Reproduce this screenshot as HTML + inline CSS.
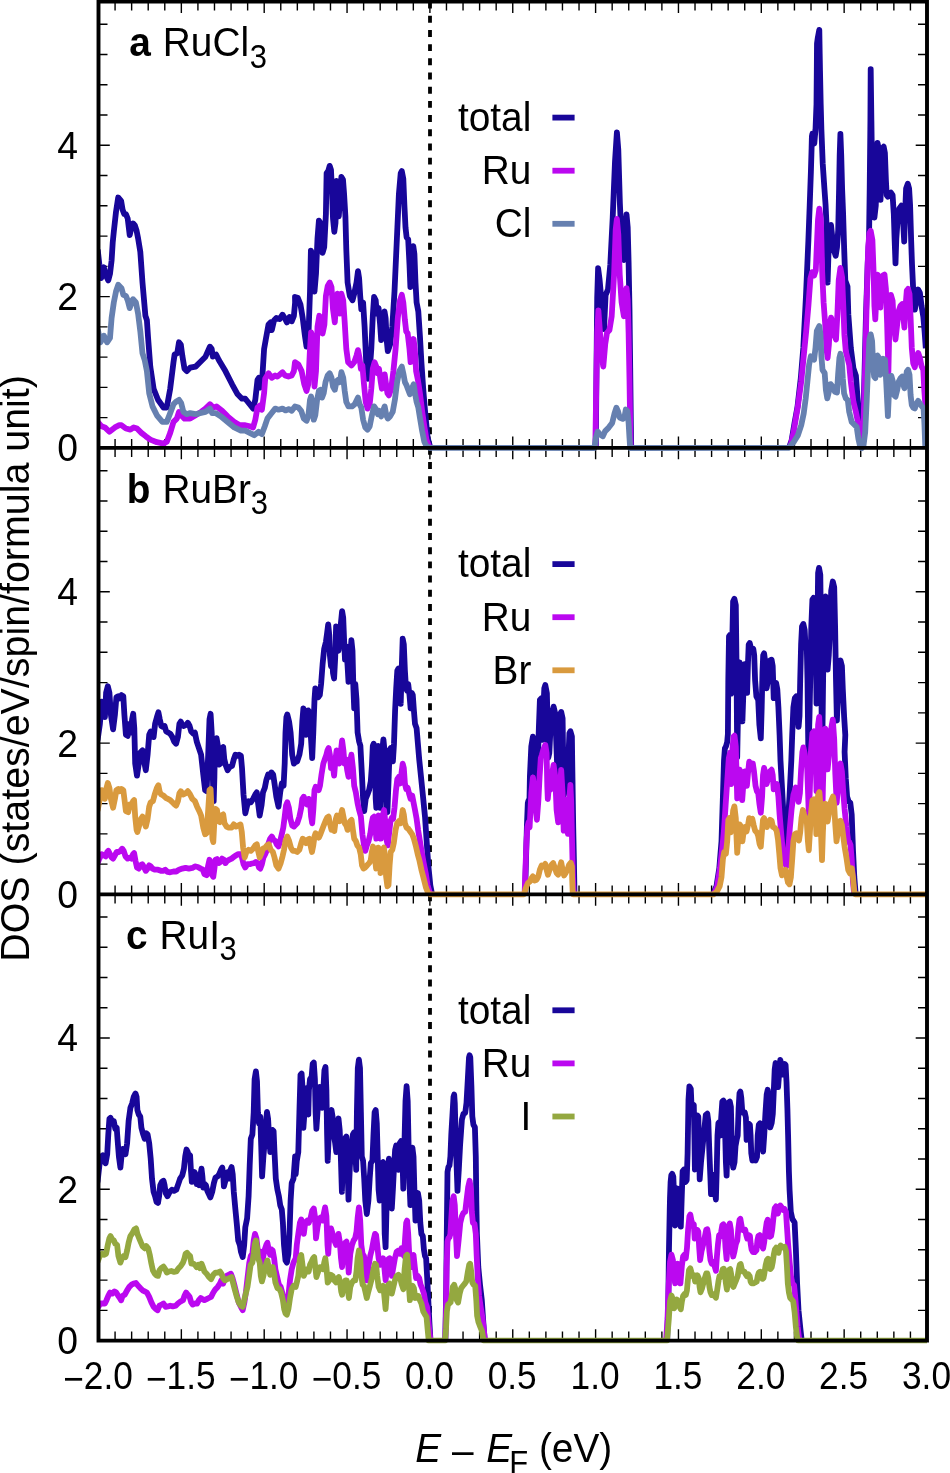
<!DOCTYPE html>
<html><head><meta charset="utf-8"><title>DOS</title>
<style>html,body{margin:0;padding:0;background:#fff}body{width:950px;height:1473px;overflow:hidden}</style>
</head><body>
<svg width="950" height="1473" viewBox="0 0 950 1473" style="display:block;will-change:transform;transform:translateZ(0)">
<rect width="950" height="1473" fill="#fff"/>
<defs><clipPath id="cp"><rect x="98.5" y="0" width="828.5" height="1343.6"/></clipPath></defs>
<path d="M98.50,1.6 v11.3 M98.50,436.59999999999997 v22.6 M98.50,883.1 v22.6 M98.50,1340.6 v-11.3 M115.07,1.6 v9.0 M115.07,438.9 v18.0 M115.07,885.4 v18.0 M115.07,1340.6 v-9.0 M131.64,1.6 v9.0 M131.64,438.9 v18.0 M131.64,885.4 v18.0 M131.64,1340.6 v-9.0 M148.21,1.6 v9.0 M148.21,438.9 v18.0 M148.21,885.4 v18.0 M148.21,1340.6 v-9.0 M164.78,1.6 v9.0 M164.78,438.9 v18.0 M164.78,885.4 v18.0 M164.78,1340.6 v-9.0 M181.35,1.6 v11.3 M181.35,436.59999999999997 v22.6 M181.35,883.1 v22.6 M181.35,1340.6 v-11.3 M197.92,1.6 v9.0 M197.92,438.9 v18.0 M197.92,885.4 v18.0 M197.92,1340.6 v-9.0 M214.49,1.6 v9.0 M214.49,438.9 v18.0 M214.49,885.4 v18.0 M214.49,1340.6 v-9.0 M231.06,1.6 v9.0 M231.06,438.9 v18.0 M231.06,885.4 v18.0 M231.06,1340.6 v-9.0 M247.63,1.6 v9.0 M247.63,438.9 v18.0 M247.63,885.4 v18.0 M247.63,1340.6 v-9.0 M264.20,1.6 v11.3 M264.20,436.59999999999997 v22.6 M264.20,883.1 v22.6 M264.20,1340.6 v-11.3 M280.77,1.6 v9.0 M280.77,438.9 v18.0 M280.77,885.4 v18.0 M280.77,1340.6 v-9.0 M297.34,1.6 v9.0 M297.34,438.9 v18.0 M297.34,885.4 v18.0 M297.34,1340.6 v-9.0 M313.91,1.6 v9.0 M313.91,438.9 v18.0 M313.91,885.4 v18.0 M313.91,1340.6 v-9.0 M330.48,1.6 v9.0 M330.48,438.9 v18.0 M330.48,885.4 v18.0 M330.48,1340.6 v-9.0 M347.05,1.6 v11.3 M347.05,436.59999999999997 v22.6 M347.05,883.1 v22.6 M347.05,1340.6 v-11.3 M363.62,1.6 v9.0 M363.62,438.9 v18.0 M363.62,885.4 v18.0 M363.62,1340.6 v-9.0 M380.19,1.6 v9.0 M380.19,438.9 v18.0 M380.19,885.4 v18.0 M380.19,1340.6 v-9.0 M396.76,1.6 v9.0 M396.76,438.9 v18.0 M396.76,885.4 v18.0 M396.76,1340.6 v-9.0 M413.33,1.6 v9.0 M413.33,438.9 v18.0 M413.33,885.4 v18.0 M413.33,1340.6 v-9.0 M429.90,1.6 v11.3 M429.90,436.59999999999997 v22.6 M429.90,883.1 v22.6 M429.90,1340.6 v-11.3 M446.47,1.6 v9.0 M446.47,438.9 v18.0 M446.47,885.4 v18.0 M446.47,1340.6 v-9.0 M463.04,1.6 v9.0 M463.04,438.9 v18.0 M463.04,885.4 v18.0 M463.04,1340.6 v-9.0 M479.61,1.6 v9.0 M479.61,438.9 v18.0 M479.61,885.4 v18.0 M479.61,1340.6 v-9.0 M496.18,1.6 v9.0 M496.18,438.9 v18.0 M496.18,885.4 v18.0 M496.18,1340.6 v-9.0 M512.75,1.6 v11.3 M512.75,436.59999999999997 v22.6 M512.75,883.1 v22.6 M512.75,1340.6 v-11.3 M529.32,1.6 v9.0 M529.32,438.9 v18.0 M529.32,885.4 v18.0 M529.32,1340.6 v-9.0 M545.89,1.6 v9.0 M545.89,438.9 v18.0 M545.89,885.4 v18.0 M545.89,1340.6 v-9.0 M562.46,1.6 v9.0 M562.46,438.9 v18.0 M562.46,885.4 v18.0 M562.46,1340.6 v-9.0 M579.03,1.6 v9.0 M579.03,438.9 v18.0 M579.03,885.4 v18.0 M579.03,1340.6 v-9.0 M595.60,1.6 v11.3 M595.60,436.59999999999997 v22.6 M595.60,883.1 v22.6 M595.60,1340.6 v-11.3 M612.17,1.6 v9.0 M612.17,438.9 v18.0 M612.17,885.4 v18.0 M612.17,1340.6 v-9.0 M628.74,1.6 v9.0 M628.74,438.9 v18.0 M628.74,885.4 v18.0 M628.74,1340.6 v-9.0 M645.31,1.6 v9.0 M645.31,438.9 v18.0 M645.31,885.4 v18.0 M645.31,1340.6 v-9.0 M661.88,1.6 v9.0 M661.88,438.9 v18.0 M661.88,885.4 v18.0 M661.88,1340.6 v-9.0 M678.45,1.6 v11.3 M678.45,436.59999999999997 v22.6 M678.45,883.1 v22.6 M678.45,1340.6 v-11.3 M695.02,1.6 v9.0 M695.02,438.9 v18.0 M695.02,885.4 v18.0 M695.02,1340.6 v-9.0 M711.59,1.6 v9.0 M711.59,438.9 v18.0 M711.59,885.4 v18.0 M711.59,1340.6 v-9.0 M728.16,1.6 v9.0 M728.16,438.9 v18.0 M728.16,885.4 v18.0 M728.16,1340.6 v-9.0 M744.73,1.6 v9.0 M744.73,438.9 v18.0 M744.73,885.4 v18.0 M744.73,1340.6 v-9.0 M761.30,1.6 v11.3 M761.30,436.59999999999997 v22.6 M761.30,883.1 v22.6 M761.30,1340.6 v-11.3 M777.87,1.6 v9.0 M777.87,438.9 v18.0 M777.87,885.4 v18.0 M777.87,1340.6 v-9.0 M794.44,1.6 v9.0 M794.44,438.9 v18.0 M794.44,885.4 v18.0 M794.44,1340.6 v-9.0 M811.01,1.6 v9.0 M811.01,438.9 v18.0 M811.01,885.4 v18.0 M811.01,1340.6 v-9.0 M827.58,1.6 v9.0 M827.58,438.9 v18.0 M827.58,885.4 v18.0 M827.58,1340.6 v-9.0 M844.15,1.6 v11.3 M844.15,436.59999999999997 v22.6 M844.15,883.1 v22.6 M844.15,1340.6 v-11.3 M860.72,1.6 v9.0 M860.72,438.9 v18.0 M860.72,885.4 v18.0 M860.72,1340.6 v-9.0 M877.29,1.6 v9.0 M877.29,438.9 v18.0 M877.29,885.4 v18.0 M877.29,1340.6 v-9.0 M893.86,1.6 v9.0 M893.86,438.9 v18.0 M893.86,885.4 v18.0 M893.86,1340.6 v-9.0 M910.43,1.6 v9.0 M910.43,438.9 v18.0 M910.43,885.4 v18.0 M910.43,1340.6 v-9.0 M927.00,1.6 v11.3 M927.00,436.59999999999997 v22.6 M927.00,883.1 v22.6 M927.00,1340.6 v-11.3 M98.5,447.90 h11.3 M927.0,447.90 h-11.3 M98.5,417.64 h9.0 M927.0,417.64 h-9.0 M98.5,387.38 h9.0 M927.0,387.38 h-9.0 M98.5,357.12 h9.0 M927.0,357.12 h-9.0 M98.5,326.86 h9.0 M927.0,326.86 h-9.0 M98.5,296.60 h11.3 M927.0,296.60 h-11.3 M98.5,266.34 h9.0 M927.0,266.34 h-9.0 M98.5,236.08 h9.0 M927.0,236.08 h-9.0 M98.5,205.82 h9.0 M927.0,205.82 h-9.0 M98.5,175.56 h9.0 M927.0,175.56 h-9.0 M98.5,145.30 h11.3 M927.0,145.30 h-11.3 M98.5,115.04 h9.0 M927.0,115.04 h-9.0 M98.5,84.78 h9.0 M927.0,84.78 h-9.0 M98.5,54.52 h9.0 M927.0,54.52 h-9.0 M98.5,24.26 h9.0 M927.0,24.26 h-9.0 M98.5,894.40 h11.3 M927.0,894.40 h-11.3 M98.5,864.14 h9.0 M927.0,864.14 h-9.0 M98.5,833.88 h9.0 M927.0,833.88 h-9.0 M98.5,803.62 h9.0 M927.0,803.62 h-9.0 M98.5,773.36 h9.0 M927.0,773.36 h-9.0 M98.5,743.10 h11.3 M927.0,743.10 h-11.3 M98.5,712.84 h9.0 M927.0,712.84 h-9.0 M98.5,682.58 h9.0 M927.0,682.58 h-9.0 M98.5,652.32 h9.0 M927.0,652.32 h-9.0 M98.5,622.06 h9.0 M927.0,622.06 h-9.0 M98.5,591.80 h11.3 M927.0,591.80 h-11.3 M98.5,561.54 h9.0 M927.0,561.54 h-9.0 M98.5,531.28 h9.0 M927.0,531.28 h-9.0 M98.5,501.02 h9.0 M927.0,501.02 h-9.0 M98.5,470.76 h9.0 M927.0,470.76 h-9.0 M98.5,1340.60 h11.3 M927.0,1340.60 h-11.3 M98.5,1310.34 h9.0 M927.0,1310.34 h-9.0 M98.5,1280.08 h9.0 M927.0,1280.08 h-9.0 M98.5,1249.82 h9.0 M927.0,1249.82 h-9.0 M98.5,1219.56 h9.0 M927.0,1219.56 h-9.0 M98.5,1189.30 h11.3 M927.0,1189.30 h-11.3 M98.5,1159.04 h9.0 M927.0,1159.04 h-9.0 M98.5,1128.78 h9.0 M927.0,1128.78 h-9.0 M98.5,1098.52 h9.0 M927.0,1098.52 h-9.0 M98.5,1068.26 h9.0 M927.0,1068.26 h-9.0 M98.5,1038.00 h11.3 M927.0,1038.00 h-11.3 M98.5,1007.74 h9.0 M927.0,1007.74 h-9.0 M98.5,977.48 h9.0 M927.0,977.48 h-9.0 M98.5,947.22 h9.0 M927.0,947.22 h-9.0 M98.5,916.96 h9.0 M927.0,916.96 h-9.0" fill="none" stroke="#000" stroke-width="1.4"/>
<g clip-path="url(#cp)">
<line x1="430.0" y1="1.6" x2="430.0" y2="447.9" stroke="#000" stroke-width="3.8" stroke-dasharray="6.9 7.29"/>
<line x1="430.0" y1="447.9" x2="430.0" y2="894.4" stroke="#000" stroke-width="3.8" stroke-dasharray="6.9 7.29"/>
<line x1="430.0" y1="894.4" x2="430.0" y2="1340.6" stroke="#000" stroke-width="3.8" stroke-dasharray="6.9 7.29"/>
<path d="M97.7,249.5 L99.4,264.9 L101.2,278.2 L103.8,267.2 L106.1,276.0 L108.3,280.4 L110.0,273.8 L111.6,260.5 L112.7,242.8 L113.8,231.8 L116.0,211.9 L118.2,197.5 L121.1,200.8 L122.6,209.7 L124.2,214.1 L125.9,214.1 L127.7,218.5 L129.7,235.1 L131.5,227.4 L133.0,223.4 L134.8,225.2 L136.6,230.7 L138.1,238.4 L140.3,251.7 L142.5,282.6 L145.4,315.8 L146.9,320.2 L148.1,337.9 L150.3,366.6 L153.6,388.7 L158.0,399.8 L163.5,407.5 L166.8,407.5 L170.2,388.7 L173.5,362.2 L174.6,354.5 L177.2,353.4 L179.0,342.3 L180.8,344.5 L182.3,355.6 L184.5,368.8 L186.7,371.1 L190.1,367.7 L195.6,366.6 L200.0,362.2 L205.5,356.7 L209.9,346.7 L211.7,348.9 L212.8,356.7 L216.1,354.5 L218.8,360.0 L225.4,371.1 L232.1,384.3 L237.6,394.3 L242.0,398.7 L245.3,398.7 L249.7,404.2 L253.1,408.6 L255.3,399.8 L257.5,379.9 L259.0,377.7 L260.3,387.6 L261.9,384.3 L264.1,348.9 L265.7,340.1 L268.5,324.6 L270.7,322.4 L271.8,330.2 L274.1,320.2 L276.3,318.0 L279.6,319.1 L282.5,314.7 L284.7,318.0 L286.9,322.4 L289.5,316.9 L291.7,321.3 L293.9,315.8 L295.1,302.5 L295.0,297.0 L297.7,297.7 L300.5,304.7 L302.7,318.0 L304.9,335.7 L306.5,346.7 L308.3,340.1 L310.0,291.5 L310.9,250.6 L312.2,253.9 L313.1,273.8 L314.5,291.5 L316.0,273.8 L317.5,238.4 L318.9,220.7 L320.4,222.9 L321.5,238.4 L322.6,252.8 L324.2,247.3 L325.9,214.1 L326.6,173.2 L328.2,171.0 L329.7,165.9 L331.0,169.9 L332.1,194.2 L333.0,218.5 L334.3,231.8 L335.5,222.9 L336.6,180.9 L337.7,187.6 L338.8,216.3 L340.3,194.2 L341.4,177.0 L343.0,179.8 L344.1,194.2 L345.4,216.3 L346.3,249.5 L347.6,282.6 L349.8,295.9 L352.5,300.3 L354.2,293.7 L356.5,282.6 L358.0,271.1 L359.1,278.2 L360.2,295.9 L361.3,309.2 L363.1,302.5 L364.6,326.8 L366.2,362.2 L367.9,378.8 L369.7,371.1 L371.3,348.9 L372.8,315.8 L374.1,297.0 L375.7,300.3 L376.8,313.6 L378.6,308.1 L380.1,324.6 L381.2,340.1 L383.0,326.8 L384.5,311.4 L385.6,318.0 L386.7,340.1 L387.8,351.2 L390.1,344.5 L392.3,326.8 L394.5,291.5 L396.7,242.8 L398.9,194.2 L400.7,173.2 L401.8,171.0 L403.3,178.7 L404.4,205.3 L405.5,227.4 L406.6,237.3 L408.2,239.5 L409.5,264.9 L410.4,287.1 L412.2,260.5 L413.3,246.2 L414.4,253.9 L415.5,282.6 L416.6,302.5 L418.3,311.4 L419.9,335.7 L421.4,362.2 L423.2,388.7 L425.4,415.3 L427.6,437.4 L429.8,445.8 L432.1,447.8 M595.8,448.0 L596.5,367.8 L597.2,297.5 L598.1,268.2 L599.5,278.8 L601.6,302.2 L604.0,329.1 L605.6,295.2 L608.0,289.3 L610.3,264.7 L612.7,217.8 L615.0,161.6 L616.9,132.3 L618.3,149.8 L619.9,203.8 L621.6,241.2 L623.9,260.0 L625.3,227.2 L626.5,214.3 L627.7,227.2 L628.6,262.3 L629.5,309.2 L630.2,367.8 L630.9,426.4 L631.2,448.0 M788.9,447.9 L791.6,440.5 L794.4,423.7 L797.5,406.8 L800.8,378.2 L803.3,347.9 L805.9,297.4 L808.4,240.1 L809.7,205.3 L810.9,171.6 L811.6,148.0 L811.9,136.2 L812.4,133.7 L813.5,136.2 L814.3,143.5 L815.5,129.5 L816.5,104.2 L816.8,70.5 L817.0,43.6 L817.8,37.7 L819.3,29.9 L819.7,53.7 L820.0,70.5 L820.7,104.2 L821.4,129.5 L822.7,163.2 L824.4,188.4 L825.6,205.3 L826.4,222.1 L826.9,255.8 L827.6,282.7 L828.4,255.8 L829.6,238.9 L831.0,225.0 L832.3,237.3 L834.0,250.7 L835.7,255.8 L837.0,247.4 L838.2,230.5 L839.1,188.4 L839.7,154.7 L840.4,134.0 L841.2,154.7 L842.1,188.4 L843.1,213.7 L844.1,246.9 L845.3,280.5 L847.5,286.4 L848.3,314.2 L850.8,347.9 L853.4,368.1 L855.9,375.7 L857.6,398.4 L859.3,423.7 L860.9,444.4 L862.0,446.9 L863.0,432.1 L864.3,381.6 L866.0,314.2 L867.7,263.7 L869.0,240.0 L869.7,188.4 L870.4,121.1 L870.7,69.2 L871.4,121.1 L872.1,171.6 L873.1,205.3 L874.4,217.6 L875.8,205.3 L876.6,171.6 L877.5,142.8 L878.6,148.0 L879.5,180.0 L880.5,199.9 L881.5,171.6 L882.5,148.0 L883.7,146.7 L884.9,153.1 L885.9,180.0 L886.7,195.2 L887.9,196.8 L888.9,194.3 L890.9,192.6 L892.6,195.2 L893.8,213.7 L894.6,238.9 L895.5,263.4 L896.3,238.9 L897.7,218.7 L899.3,208.6 L901.4,205.6 L902.7,213.7 L903.6,230.5 L904.2,241.5 L905.1,213.7 L906.1,188.4 L907.8,183.7 L909.1,188.4 L910.1,205.3 L911.1,238.9 L912.0,264.2 L913.2,289.5 L914.8,309.7 L916.5,299.6 L918.2,289.5 L919.9,292.8 L921.6,306.3 L923.3,316.4 L924.6,331.6 L925.8,348.4" fill="none" stroke="#18069a" stroke-width="5.8" stroke-linejoin="round" stroke-linecap="butt"/>
<path d="M97.7,421.9 L101.6,426.3 L104.9,427.4 L109.4,431.8 L114.9,427.4 L119.3,425.2 L121.5,425.2 L125.9,428.5 L130.4,429.6 L133.7,427.4 L137.0,428.5 L141.4,432.9 L145.8,436.3 L150.3,439.6 L156.9,442.2 L163.5,443.6 L166.8,441.8 L170.2,432.9 L173.5,421.9 L176.8,418.6 L179.0,411.9 L181.2,415.3 L184.5,418.6 L190.1,418.6 L195.6,415.3 L201.1,411.9 L205.5,408.6 L209.9,404.2 L213.3,407.5 L216.6,406.4 L222.1,410.8 L227.6,416.4 L234.3,421.9 L239.8,425.2 L245.3,425.2 L249.7,426.3 L253.1,427.4 L255.3,419.7 L257.5,407.5 L260.3,405.3 L261.9,409.7 L264.1,393.2 L265.2,378.8 L268.5,373.3 L271.8,377.7 L275.2,375.5 L277.4,376.6 L282.5,372.2 L285.1,375.5 L288.4,376.6 L291.7,375.5 L293.9,371.1 L295.0,362.2 L298.3,364.4 L301.6,371.1 L304.3,384.3 L306.5,390.9 L308.3,384.3 L310.0,348.9 L311.1,332.4 L312.7,337.9 L313.8,360.0 L314.5,386.5 L316.0,371.1 L317.5,326.8 L319.3,315.8 L321.1,318.0 L322.6,333.5 L324.4,324.6 L325.9,295.9 L327.7,285.9 L329.7,282.6 L331.5,287.1 L333.0,309.2 L334.8,322.4 L336.1,304.7 L337.4,293.7 L338.8,302.5 L339.9,313.6 L341.4,293.7 L343.2,300.3 L344.7,322.4 L346.3,348.9 L348.1,362.2 L351.4,365.5 L354.2,362.2 L356.5,355.6 L358.0,350.1 L359.5,357.8 L360.9,368.8 L362.4,365.5 L364.0,384.3 L365.7,402.0 L367.5,408.6 L369.7,404.2 L371.3,388.7 L372.8,368.8 L374.6,362.2 L376.3,366.6 L377.5,373.3 L379.0,368.8 L380.8,382.1 L381.9,388.7 L383.4,379.9 L384.7,374.4 L386.1,384.3 L387.4,393.2 L388.9,395.4 L391.2,388.7 L393.4,371.1 L395.6,348.9 L397.8,318.0 L400.0,300.3 L401.8,294.8 L403.3,302.5 L404.9,320.2 L406.2,331.3 L407.7,333.5 L409.5,348.9 L410.6,362.2 L412.2,346.7 L413.5,339.0 L414.8,348.9 L416.1,371.1 L417.9,379.9 L419.9,393.2 L422.1,410.8 L424.3,426.3 L426.5,439.6 L428.7,445.8 L430.9,447.8 M595.3,448.0 L596.2,391.2 L597.2,332.7 L598.4,310.4 L600.0,332.7 L601.6,356.1 L603.3,366.6 L605.2,344.4 L607.0,332.7 L609.4,330.3 L611.7,316.2 L614.1,274.1 L615.7,229.5 L616.9,219.0 L618.3,234.2 L619.7,274.1 L621.6,302.2 L623.9,316.2 L625.3,297.5 L626.5,288.1 L627.7,299.8 L628.6,332.7 L629.5,379.5 L630.2,426.4 L630.7,448.0 M789.4,447.9 L791.1,443.9 L793.6,432.1 L797.8,406.8 L801.2,381.6 L803.7,356.3 L806.2,331.1 L808.4,305.8 L810.4,278.8 L812.1,272.1 L814.1,275.5 L815.8,270.4 L816.8,246.8 L818.0,219.9 L819.3,208.6 L820.9,219.9 L822.2,272.1 L823.6,302.4 L825.2,324.3 L826.4,347.9 L827.6,358.0 L828.9,344.5 L829.8,324.3 L831.1,317.6 L832.7,324.3 L834.0,334.4 L836.0,339.5 L837.4,314.2 L838.7,280.5 L840.4,267.9 L842.1,277.2 L843.3,305.8 L844.4,334.4 L845.8,351.3 L847.5,358.0 L849.2,364.7 L850.8,381.6 L853.4,401.8 L855.9,411.9 L857.6,420.3 L859.3,432.1 L861.8,446.9 L863.5,423.7 L865.2,364.7 L866.8,297.4 L868.2,246.8 L869.4,233.4 L870.7,230.8 L872.4,240.1 L873.6,272.1 L874.4,305.8 L875.3,319.3 L876.4,297.4 L877.5,274.6 L879.1,277.2 L880.3,307.5 L881.5,285.6 L882.8,275.5 L884.5,274.6 L885.9,288.9 L887.1,322.6 L888.4,371.5 L889.6,314.2 L890.9,294.8 L892.6,300.7 L893.8,324.3 L895.5,339.5 L897.2,324.3 L898.8,310.8 L900.5,305.8 L902.2,304.1 L903.4,317.6 L904.4,327.7 L905.6,305.8 L906.8,290.6 L908.1,288.9 L909.5,294.0 L910.6,317.6 L911.8,347.9 L913.2,363.1 L914.8,367.3 L916.5,358.0 L918.2,352.9 L919.9,358.0 L921.6,366.4 L923.3,369.8 L924.3,390.0 L925.6,408.5" fill="none" stroke="#bb08f0" stroke-width="5.8" stroke-linejoin="round" stroke-linecap="butt"/>
<path d="M97.7,329.1 L100.5,342.3 L103.8,335.7 L107.2,342.3 L110.0,337.9 L111.6,318.0 L113.8,302.5 L116.0,291.5 L118.2,284.8 L121.5,288.2 L123.3,294.8 L125.9,295.9 L127.7,300.3 L129.7,308.1 L131.5,302.5 L133.0,299.2 L135.9,302.5 L138.1,313.6 L140.3,331.3 L142.5,353.4 L144.7,360.0 L146.9,371.1 L149.2,393.2 L152.5,406.4 L156.9,415.3 L162.4,421.9 L166.8,421.9 L170.2,413.1 L173.5,404.2 L175.7,402.0 L179.0,399.8 L181.2,403.1 L183.4,411.9 L186.7,414.2 L190.1,413.1 L195.6,414.2 L200.0,413.1 L205.5,411.9 L209.9,408.6 L212.2,413.1 L215.5,413.1 L221.0,416.4 L227.6,421.9 L234.3,427.4 L240.9,430.7 L245.3,430.7 L249.7,432.9 L254.2,435.2 L258.6,431.8 L261.9,434.1 L264.8,426.3 L267.4,418.6 L270.7,414.2 L275.2,408.6 L278.5,409.7 L282.5,408.6 L285.5,410.4 L289.1,409.1 L291.7,410.8 L295.0,406.4 L298.3,407.5 L301.2,410.8 L303.8,418.6 L306.5,420.8 L308.3,416.4 L310.0,399.8 L311.1,396.5 L312.7,404.2 L313.8,419.7 L315.3,415.3 L317.1,399.8 L318.9,390.9 L320.4,389.8 L322.0,397.6 L323.7,393.2 L325.5,382.1 L327.7,375.5 L329.7,373.3 L331.5,377.7 L333.0,386.5 L334.8,389.8 L336.6,381.0 L338.1,379.9 L339.9,382.1 L341.4,372.2 L343.2,377.7 L344.7,390.9 L346.3,402.0 L348.5,406.4 L352.0,406.4 L354.7,404.2 L358.0,397.6 L359.5,404.2 L361.3,407.5 L363.1,419.7 L365.3,427.4 L367.5,429.6 L369.7,426.3 L371.9,415.3 L374.1,406.4 L376.3,409.7 L377.9,414.2 L379.4,410.8 L381.2,416.4 L383.4,409.7 L384.7,406.4 L386.3,415.3 L387.8,418.6 L390.1,416.4 L392.7,411.9 L394.9,399.8 L397.1,382.1 L399.3,371.1 L401.8,366.6 L403.3,373.3 L404.9,382.1 L406.6,385.4 L408.2,389.8 L409.9,394.3 L412.2,387.6 L413.7,384.3 L415.0,393.2 L416.6,402.0 L418.3,407.5 L419.9,417.5 L422.1,430.7 L424.3,441.8 L426.5,446.2 L429.8,447.8 L594.4,448.0 L595.8,438.1 L597.7,431.6 L600.0,434.6 L602.8,436.2 L605.2,431.1 L608.7,427.6 L612.2,422.9 L614.5,413.5 L616.4,407.7 L618.0,411.2 L619.7,417.5 L622.7,418.9 L624.4,417.5 L625.8,409.5 L627.4,411.2 L628.6,422.9 L629.5,438.1 L630.2,448.0 L788.9,447.9 L793.6,442.2 L797.8,435.5 L801.2,425.4 L803.7,413.6 L805.7,398.4 L807.4,381.6 L809.1,364.7 L810.8,356.3 L812.4,358.0 L814.1,359.7 L815.5,347.9 L816.8,331.1 L819.3,326.0 L820.5,334.4 L821.4,356.3 L822.5,369.8 L824.7,373.2 L825.9,390.0 L827.3,398.4 L828.9,391.7 L830.6,384.1 L832.7,386.6 L834.8,391.7 L837.0,392.5 L838.2,373.2 L839.4,358.0 L840.4,353.8 L841.7,359.7 L842.8,378.2 L844.1,393.4 L845.8,398.4 L847.8,400.1 L849.2,411.9 L851.7,422.0 L854.2,424.5 L856.7,427.1 L858.4,438.8 L860.1,446.4 L861.8,448.1 L863.5,445.6 L865.2,432.1 L866.8,398.4 L868.2,364.7 L869.4,339.5 L870.7,334.4 L872.1,341.2 L873.1,364.7 L874.1,376.5 L875.3,378.2 L876.4,364.7 L877.5,355.5 L879.1,358.0 L880.3,374.8 L882.0,363.1 L883.2,358.8 L885.0,359.7 L886.2,381.6 L887.9,416.1 L888.7,398.4 L889.9,378.2 L891.3,375.7 L892.9,381.6 L894.1,395.1 L895.5,396.7 L897.2,390.0 L898.8,381.6 L900.5,378.2 L902.2,376.5 L903.4,384.9 L904.4,388.3 L905.7,378.2 L906.8,371.5 L908.1,369.8 L909.5,374.8 L910.6,395.1 L911.8,405.2 L913.2,407.7 L914.8,408.5 L916.5,403.5 L918.2,400.9 L919.9,403.5 L921.6,406.0 L923.6,408.5 L924.4,423.7 L925.3,447.3" fill="none" stroke="#6680b0" stroke-width="5.8" stroke-linejoin="round" stroke-linecap="butt"/>
<path d="M96.1,741.5 L97.7,739.3 L99.9,723.8 L101.6,701.7 L103.4,703.9 L104.9,717.2 L106.1,692.8 L107.8,686.2 L109.4,692.8 L110.9,714.9 L113.1,729.3 L114.9,714.9 L116.4,697.3 L118.2,696.2 L119.8,698.4 L121.5,695.1 L123.3,696.2 L124.4,714.9 L125.9,734.8 L127.7,735.9 L129.3,723.8 L130.8,732.6 L132.1,719.4 L133.2,713.8 L134.3,728.2 L135.2,763.6 L137.0,775.7 L138.8,763.6 L140.3,752.5 L142.5,750.3 L144.1,761.4 L145.8,770.2 L147.6,754.7 L149.2,734.8 L150.7,731.5 L152.5,732.6 L153.6,737.1 L155.1,723.8 L156.9,717.2 L158.4,712.3 L159.8,719.4 L161.3,726.0 L163.1,727.1 L164.6,726.0 L166.2,731.5 L168.4,732.6 L170.2,733.7 L172.4,737.1 L174.1,741.5 L176.1,743.7 L177.9,737.1 L179.4,723.8 L180.8,721.6 L182.3,724.9 L183.9,726.0 L186.1,724.9 L187.8,722.7 L189.6,726.0 L191.2,731.5 L193.4,733.7 L194.9,732.6 L196.7,741.5 L198.9,748.1 L201.1,754.7 L203.3,774.6 L205.1,790.1 L206.6,791.2 L208.2,754.7 L209.5,719.4 L210.6,713.8 L211.7,732.6 L212.8,776.8 L213.7,801.2 L214.4,776.8 L215.0,741.5 L216.6,738.2 L217.9,745.9 L218.8,764.7 L220.6,763.6 L222.1,748.1 L223.2,747.0 L224.3,759.2 L225.9,765.8 L227.6,770.2 L229.8,766.9 L232.1,765.8 L233.8,759.2 L235.4,754.7 L237.6,755.8 L239.1,754.7 L240.9,755.8 L242.0,768.0 L243.5,794.5 L245.3,813.3 L247.1,805.6 L248.6,801.2 L250.8,802.3 L253.1,798.9 L255.3,794.5 L256.8,792.3 L258.1,803.4 L259.7,815.5 L261.5,805.6 L263.0,792.3 L264.8,787.9 L266.3,780.2 L268.1,774.6 L269.6,776.8 L271.4,772.4 L273.2,774.6 L274.5,783.5 L276.3,796.7 L278.5,806.7 L280.2,792.3 L281.8,783.5 L283.6,785.7 L284.7,763.6 L285.5,732.6 L286.4,717.2 L287.3,714.5 L289.1,721.6 L290.6,732.6 L292.2,754.7 L293.9,763.6 L295.0,762.5 L297.2,761.4 L299.4,754.7 L301.2,743.7 L302.3,721.6 L303.4,708.3 L304.9,714.9 L306.1,734.8 L307.2,723.8 L308.3,710.5 L310.0,712.7 L310.9,737.1 L312.2,758.1 L313.3,732.6 L314.5,699.5 L315.3,688.4 L317.1,690.6 L318.2,697.3 L319.8,695.1 L321.1,684.0 L322.6,664.1 L324.2,648.6 L325.9,642.0 L327.1,633.2 L328.2,624.3 L329.3,635.4 L329.9,655.3 L331.0,666.3 L332.1,657.5 L333.0,672.9 L334.1,678.5 L335.2,657.5 L336.1,626.5 L337.4,628.7 L338.5,650.8 L339.7,639.8 L340.8,624.3 L342.1,611.1 L343.2,617.7 L344.1,639.8 L345.0,659.7 L346.3,646.4 L347.6,666.3 L348.5,681.8 L349.8,661.9 L351.4,640.2 L352.5,650.8 L353.4,688.4 L354.2,708.3 L355.3,684.0 L356.5,699.5 L357.6,732.6 L359.1,741.5 L360.4,745.9 L361.8,772.4 L363.1,798.9 L364.2,811.1 L365.7,798.9 L367.5,794.5 L369.1,790.1 L370.8,781.3 L371.9,765.8 L372.8,745.9 L373.7,743.7 L374.8,754.7 L375.7,798.9 L376.3,807.8 L377.2,754.7 L378.1,745.9 L379.2,759.2 L380.1,807.8 L381.2,768.0 L382.3,750.3 L383.4,739.3 L384.5,750.3 L385.4,781.3 L386.3,807.8 L387.4,812.2 L388.7,776.8 L389.6,750.3 L390.7,748.1 L391.8,754.7 L392.9,761.4 L394.0,743.7 L395.1,710.5 L396.2,688.4 L397.3,670.7 L398.5,668.5 L399.6,677.4 L400.7,703.9 L401.8,666.3 L402.7,638.7 L403.8,644.2 L404.9,670.7 L406.0,688.4 L407.1,690.6 L408.2,684.0 L409.5,695.1 L410.6,708.3 L411.7,692.8 L412.8,695.1 L413.9,710.5 L415.0,723.8 L416.6,728.2 L417.9,743.7 L419.2,759.2 L421.0,776.8 L422.8,794.5 L425.0,816.6 L426.5,838.7 L428.3,865.3 L430.3,885.2 L432.1,894.4 M525.0,894.3 L526.0,859.7 L526.9,826.4 L527.8,803.1 L528.4,800.6 L529.3,809.8 L529.9,776.5 L531.3,746.5 L532.9,736.6 L534.4,746.5 L535.8,773.2 L536.9,788.2 L537.9,759.9 L538.9,726.6 L539.9,699.9 L541.3,698.3 L542.1,729.9 L542.6,739.9 L543.3,709.9 L544.3,688.3 L545.3,685.0 L546.9,693.3 L547.8,734.9 L548.3,757.5 L549.3,753.2 L550.2,734.9 L551.9,713.3 L553.6,706.6 L555.2,713.3 L556.6,751.5 L557.9,784.8 L558.9,751.5 L559.9,714.9 L561.2,711.9 L562.6,718.3 L563.2,759.9 L563.9,794.8 L564.9,766.5 L565.9,754.9 L566.9,776.5 L567.7,791.5 L568.6,753.2 L569.4,733.2 L570.4,731.2 L571.9,736.6 L572.2,759.9 L572.7,793.1 L573.2,826.4 L573.9,859.7 L574.5,894.3 M712.9,894.4 L716.5,886.1 L719.3,868.2 L721.5,841.3 L722.9,796.6 L724.0,760.8 L724.9,748.3 L726.1,746.1 L727.2,742.0 L727.9,733.9 L728.3,680.3 L729.0,636.4 L729.9,635.0 L730.4,662.4 L731.1,693.7 L732.2,644.5 L733.1,601.5 L734.4,598.8 L735.8,605.1 L736.5,662.4 L737.2,757.2 L738.3,698.2 L739.7,662.4 L741.2,671.3 L742.4,721.4 L743.5,689.2 L744.7,664.2 L746.0,665.9 L747.1,692.8 L748.0,662.4 L748.7,644.5 L749.7,643.0 L751.0,648.1 L752.3,649.8 L753.3,648.9 L754.2,655.2 L755.1,680.3 L756.4,696.4 L758.2,699.9 L759.4,725.0 L760.8,738.4 L761.7,707.1 L762.5,671.3 L763.2,655.2 L764.1,653.4 L765.3,662.4 L766.6,688.3 L768.0,680.3 L769.8,660.6 L771.6,659.7 L772.7,665.9 L773.7,698.2 L774.8,696.4 L776.1,682.9 L777.3,689.2 L778.4,707.1 L779.6,735.0 L780.5,760.8 L782.0,787.6 L783.2,809.1 L785.0,832.4 L786.1,848.5 L787.7,825.2 L789.5,796.6 L791.3,760.8 L792.2,735.0 L793.4,707.1 L794.8,698.2 L796.3,696.4 L797.5,707.1 L798.6,726.8 L799.5,716.1 L800.2,680.3 L801.1,644.5 L802.0,626.6 L803.3,623.9 L804.7,630.2 L805.6,648.1 L806.8,648.1 L807.5,680.3 L808.4,757.2 L809.5,716.1 L810.6,662.4 L811.3,626.6 L812.4,599.7 L813.6,597.9 L815.4,601.5 L816.0,662.4 L816.5,703.5 L817.2,644.5 L818.1,572.9 L819.0,567.9 L820.3,574.7 L821.1,644.5 L822.0,769.7 L823.1,680.3 L824.4,599.7 L825.6,596.5 L826.9,608.7 L827.6,669.5 L828.8,655.2 L830.1,626.6 L831.2,590.8 L832.8,581.5 L834.2,587.2 L835.1,626.6 L836.0,680.3 L836.9,720.5 L837.8,698.2 L838.7,665.9 L840.5,660.6 L841.9,665.9 L842.8,689.2 L844.1,716.1 L845.3,735.0 L844.6,751.8 L845.8,778.7 L847.1,796.6 L848.5,801.1 L850.3,802.8 L851.7,814.5 L853.0,850.3 L854.3,877.1 L855.7,894.4 M930.0,894.4" fill="none" stroke="#18069a" stroke-width="5.8" stroke-linejoin="round" stroke-linecap="butt"/>
<path d="M96.1,865.3 L97.7,863.1 L99.4,858.6 L101.6,854.2 L103.8,855.3 L105.6,856.4 L107.2,852.0 L108.3,850.9 L110.0,854.2 L111.6,857.5 L113.1,858.6 L114.9,855.3 L116.7,852.0 L118.9,852.0 L120.4,850.9 L122.2,848.7 L123.7,850.9 L125.5,856.4 L127.7,858.6 L129.9,857.5 L131.5,858.6 L133.0,854.2 L134.1,853.1 L135.5,860.8 L137.0,867.5 L138.8,868.6 L140.5,865.3 L142.3,864.2 L144.1,867.5 L145.8,870.8 L147.6,868.6 L149.2,865.3 L150.7,866.4 L152.5,868.6 L154.7,869.7 L158.0,869.7 L160.9,870.8 L163.5,870.8 L165.3,869.7 L167.5,871.9 L170.2,872.3 L173.5,871.5 L176.3,871.5 L179.0,869.7 L182.3,868.6 L185.6,867.9 L188.9,868.6 L192.3,867.9 L194.9,866.4 L197.8,867.0 L200.7,868.6 L202.9,869.7 L204.4,874.1 L206.6,875.2 L208.2,865.3 L209.5,859.7 L211.1,864.2 L212.2,875.2 L213.3,876.8 L214.4,868.6 L215.5,859.7 L217.0,859.1 L218.8,863.1 L220.6,861.9 L222.1,858.6 L223.9,859.7 L225.4,863.1 L227.2,860.8 L229.4,859.7 L231.6,858.6 L233.8,856.9 L236.0,855.3 L238.2,854.2 L240.5,854.2 L242.0,857.5 L243.5,864.2 L245.3,867.5 L247.5,864.2 L249.7,864.2 L251.9,863.5 L254.2,863.1 L255.9,861.9 L257.5,863.1 L259.0,867.5 L260.3,868.6 L261.9,864.2 L263.4,857.5 L265.2,854.2 L267.0,849.8 L268.5,843.2 L270.1,838.7 L271.8,836.5 L273.6,839.8 L275.2,840.9 L276.7,844.3 L278.5,846.5 L280.2,840.9 L281.8,834.3 L283.3,827.7 L284.7,816.6 L286.0,805.6 L287.3,802.3 L288.9,807.8 L290.4,818.8 L292.2,825.5 L293.9,826.6 L295.0,825.5 L297.2,823.3 L299.4,816.6 L301.2,807.8 L302.3,798.9 L303.8,796.7 L305.6,803.4 L307.2,804.5 L308.7,798.9 L310.0,801.2 L311.1,816.6 L312.2,823.3 L313.3,810.0 L314.5,790.1 L315.6,786.8 L317.1,787.9 L318.7,790.1 L320.0,785.7 L321.5,774.6 L323.3,763.6 L324.8,759.2 L326.4,754.7 L327.5,750.3 L328.6,748.1 L329.9,754.7 L331.0,768.0 L332.6,763.6 L334.1,775.7 L335.5,759.2 L336.6,750.3 L338.1,752.5 L339.2,763.6 L340.5,754.7 L342.1,740.4 L343.4,750.3 L344.5,763.6 L345.8,759.2 L347.2,770.2 L348.5,776.8 L349.8,763.6 L351.4,754.7 L352.9,768.0 L354.2,785.7 L355.8,792.3 L357.6,803.4 L359.1,810.0 L360.9,816.6 L362.4,834.3 L364.0,845.4 L365.3,850.9 L366.8,845.4 L368.6,840.9 L370.2,834.3 L371.7,823.3 L372.8,817.7 L374.1,816.6 L375.2,823.3 L376.3,838.7 L377.5,821.1 L378.6,815.5 L379.7,821.1 L380.8,838.7 L381.9,823.3 L383.0,814.4 L384.1,810.0 L385.2,821.1 L386.3,838.7 L387.8,845.4 L389.2,832.1 L390.5,821.1 L391.8,817.7 L393.1,818.8 L394.5,807.8 L396.0,790.1 L397.3,779.1 L398.9,776.8 L400.2,783.5 L401.3,774.6 L402.7,763.6 L403.8,768.0 L404.9,783.5 L406.2,789.0 L407.7,787.9 L409.3,794.5 L410.6,798.9 L412.2,795.6 L413.7,803.4 L415.0,810.0 L416.6,818.8 L418.1,829.9 L419.9,840.9 L421.7,852.0 L423.7,863.1 L425.9,874.1 L427.6,885.2 L429.8,892.9 L432.1,894.4 M524.6,894.3 L525.5,868.0 L526.4,843.1 L527.4,827.3 L528.6,822.3 L529.6,827.3 L531.3,793.1 L532.9,777.3 L534.3,786.5 L535.8,809.8 L536.9,819.8 L538.3,801.5 L539.6,776.5 L540.8,758.2 L541.9,754.9 L543.3,749.9 L545.3,744.9 L546.6,753.2 L547.3,786.5 L547.8,799.0 L548.6,789.8 L550.2,789.8 L551.6,776.5 L553.6,764.9 L555.2,776.5 L556.6,809.8 L558.2,822.3 L559.6,793.1 L561.2,769.8 L562.6,793.1 L563.7,830.6 L564.9,809.8 L566.1,799.8 L566.9,826.4 L567.9,833.9 L569.1,801.5 L570.4,784.8 L571.2,801.5 L572.1,843.1 L572.9,876.4 L573.7,894.3 M714.0,894.4 L717.2,886.1 L720.0,868.2 L722.0,850.3 L723.8,832.4 L725.6,805.5 L727.4,778.7 L728.8,758.1 L730.1,752.7 L730.4,769.7 L731.1,784.1 L732.2,751.8 L733.6,736.6 L734.5,735.7 L735.8,746.5 L736.7,778.7 L737.2,798.4 L738.5,778.7 L739.7,769.7 L741.2,778.7 L742.2,800.2 L743.5,782.3 L744.7,771.5 L746.0,773.3 L746.9,785.8 L748.0,773.3 L749.2,761.7 L751.0,766.2 L752.8,763.5 L754.0,771.5 L755.5,785.8 L756.9,791.2 L758.2,793.0 L759.4,803.7 L760.8,812.7 L762.1,796.6 L763.0,775.1 L764.1,767.9 L765.3,773.3 L766.6,784.1 L768.0,778.7 L769.8,771.5 L771.6,769.7 L772.7,775.1 L773.7,789.4 L775.2,785.8 L776.9,784.1 L778.4,796.6 L779.6,814.5 L781.4,835.9 L783.2,853.8 L785.0,862.8 L786.4,866.4 L788.0,853.8 L789.8,828.8 L791.6,809.1 L793.4,794.8 L795.7,787.6 L797.5,793.0 L798.6,801.9 L799.9,793.0 L801.1,769.7 L802.4,751.8 L803.4,747.4 L804.7,753.6 L805.9,764.4 L807.0,763.5 L807.9,787.6 L808.8,814.5 L809.9,787.6 L810.9,751.8 L812.4,733.1 L814.0,731.3 L815.4,733.9 L816.0,769.7 L816.5,791.2 L817.2,760.8 L818.1,725.0 L819.2,716.9 L820.4,742.9 L821.3,796.6 L822.0,832.4 L822.9,787.6 L824.0,746.5 L825.3,728.6 L826.5,732.2 L827.6,769.4 L828.8,757.2 L830.3,735.7 L831.5,726.8 L832.8,719.6 L834.2,739.3 L835.3,773.3 L836.7,802.8 L837.8,789.4 L839.0,769.7 L840.5,763.5 L841.9,771.5 L843.2,791.2 L844.6,809.1 L846.4,827.0 L848.2,841.3 L848.9,841.3 L850.5,844.9 L851.7,859.2 L853.0,882.5 L854.3,894.4 M930.0,894.4" fill="none" stroke="#bb08f0" stroke-width="5.8" stroke-linejoin="round" stroke-linecap="butt"/>
<path d="M96.1,812.2 L97.7,810.0 L99.9,798.9 L101.6,790.1 L103.4,792.3 L104.9,798.9 L106.5,787.9 L107.8,783.0 L109.4,787.9 L110.9,798.9 L113.1,807.8 L114.9,798.9 L116.4,790.1 L118.2,789.0 L119.8,791.2 L121.5,789.0 L123.3,790.1 L124.4,798.9 L125.9,811.1 L128.2,812.2 L129.9,804.5 L131.5,806.7 L133.0,801.2 L134.1,800.1 L135.2,816.6 L136.6,829.9 L137.4,832.1 L139.2,825.5 L141.0,818.8 L142.5,816.6 L144.1,821.1 L145.8,826.6 L147.6,818.8 L149.2,806.7 L150.7,802.3 L152.9,801.2 L154.7,794.5 L156.9,787.9 L158.4,785.2 L159.8,792.3 L161.3,794.5 L163.5,795.6 L165.7,797.8 L167.9,798.9 L170.2,800.1 L172.4,802.3 L174.6,804.5 L176.1,805.6 L177.9,801.2 L179.4,793.4 L180.8,791.2 L183.0,794.5 L185.6,793.4 L187.8,791.2 L190.1,794.5 L192.3,798.9 L194.9,801.2 L197.1,806.7 L199.3,811.1 L201.1,815.5 L203.3,827.7 L205.1,834.3 L206.6,833.2 L208.2,810.0 L209.5,790.1 L210.6,789.0 L211.5,810.0 L212.4,838.7 L213.3,842.1 L214.4,821.1 L215.5,808.9 L217.0,810.0 L218.3,821.1 L219.9,822.2 L221.4,815.5 L223.2,814.4 L224.5,823.3 L226.5,826.6 L228.7,827.7 L231.6,827.7 L233.8,824.4 L236.0,826.6 L238.2,825.5 L240.5,824.4 L241.8,832.1 L243.1,847.6 L244.7,857.5 L246.4,852.0 L248.6,849.8 L250.8,850.9 L253.1,848.7 L255.3,845.4 L256.8,844.3 L258.1,850.9 L259.7,857.5 L261.5,853.1 L263.0,848.7 L265.2,847.6 L267.0,845.4 L268.7,844.3 L270.7,849.8 L272.9,852.0 L274.5,857.5 L276.3,865.3 L278.5,868.6 L280.7,863.1 L282.5,856.4 L284.0,849.8 L285.5,840.9 L287.3,836.5 L289.1,840.9 L290.9,847.6 L292.8,850.9 L295.0,850.9 L297.2,852.0 L299.4,849.8 L301.2,843.2 L302.7,838.7 L304.3,839.8 L306.1,843.2 L307.6,839.8 L309.4,838.7 L310.5,845.4 L312.0,852.0 L313.3,845.4 L314.5,836.5 L315.6,833.2 L317.1,835.4 L318.9,837.6 L320.4,834.3 L322.0,829.9 L323.7,825.5 L325.5,821.1 L327.1,817.7 L328.6,816.6 L329.9,823.3 L331.5,829.9 L333.0,827.7 L334.3,831.0 L335.9,818.8 L337.0,815.5 L338.5,818.8 L339.7,821.1 L340.8,815.5 L342.1,810.0 L343.4,816.6 L344.7,823.3 L346.3,825.5 L347.6,829.9 L348.9,823.3 L350.3,821.1 L351.6,819.9 L352.9,829.9 L354.2,838.7 L355.8,840.9 L357.3,845.4 L359.1,847.6 L360.7,854.2 L362.0,865.3 L363.5,868.6 L365.3,867.5 L367.1,865.3 L369.1,863.1 L370.6,860.8 L371.9,852.0 L373.0,846.5 L374.1,849.8 L375.2,860.8 L376.1,868.6 L377.2,854.2 L378.3,847.6 L379.4,854.2 L380.5,873.0 L381.7,858.6 L382.8,849.8 L383.9,847.6 L385.0,856.4 L386.1,876.3 L387.4,886.3 L388.5,885.2 L389.6,865.3 L390.7,852.0 L392.3,849.8 L393.8,843.2 L395.6,829.9 L397.1,823.3 L398.9,821.1 L400.4,823.3 L401.5,818.8 L402.7,810.0 L403.8,814.4 L404.9,823.3 L406.6,827.7 L408.4,828.8 L409.9,831.0 L412.2,834.3 L413.9,838.7 L415.7,845.4 L417.7,854.2 L419.5,860.8 L421.4,869.7 L423.7,878.5 L425.9,887.4 L428.1,892.9 L430.3,894.4 L524.1,894.3 L525.8,888.0 L527.9,883.0 L529.9,881.4 L531.6,878.0 L532.9,876.4 L534.6,880.5 L536.6,879.7 L538.3,876.4 L539.9,869.7 L541.6,865.5 L543.3,866.4 L545.3,863.9 L546.6,869.7 L547.9,874.7 L549.6,869.7 L551.6,864.7 L553.2,863.1 L554.9,868.0 L556.6,873.0 L558.2,874.7 L559.6,868.0 L561.2,862.2 L562.6,869.7 L564.1,875.5 L565.7,873.0 L567.4,869.7 L569.1,864.7 L570.7,862.7 L571.9,866.4 L572.2,879.7 L572.7,893.0 L573.1,894.3 L713.4,894.4 L717.0,891.4 L719.7,886.1 L721.5,877.1 L722.9,859.2 L724.2,852.1 L725.9,853.8 L727.2,841.3 L728.3,819.8 L729.5,818.1 L730.8,832.4 L731.9,825.2 L733.1,810.9 L734.4,806.4 L735.8,818.1 L736.7,841.3 L737.2,852.9 L738.5,835.9 L739.7,824.3 L741.2,827.0 L742.4,841.3 L743.8,830.6 L745.1,827.0 L746.5,831.5 L748.0,825.2 L749.2,818.1 L751.0,819.8 L752.3,818.9 L753.7,825.2 L755.1,830.6 L756.9,832.4 L758.2,835.9 L759.6,844.0 L760.8,846.7 L761.9,832.4 L763.0,819.8 L764.1,818.1 L765.5,823.4 L766.9,827.0 L768.5,823.4 L770.1,819.8 L771.6,820.7 L773.0,827.0 L774.8,827.9 L776.6,830.6 L778.0,839.5 L779.3,853.8 L780.5,868.2 L782.0,875.3 L783.7,871.7 L785.5,869.9 L786.8,877.1 L788.0,882.5 L789.5,884.3 L790.9,877.1 L792.2,859.2 L793.4,841.3 L794.8,834.2 L796.3,833.3 L797.7,836.8 L799.0,840.4 L800.2,832.4 L801.5,818.1 L802.9,810.0 L804.1,814.5 L805.6,818.1 L806.8,821.6 L807.9,841.3 L808.8,850.3 L809.9,832.4 L810.9,814.5 L812.4,800.2 L814.0,799.3 L815.4,800.2 L816.3,834.2 L817.2,814.5 L818.1,794.8 L819.4,792.1 L820.4,805.5 L821.3,841.3 L822.0,860.1 L822.9,832.4 L824.0,809.1 L825.3,803.7 L826.7,804.6 L827.6,821.6 L828.8,814.5 L830.3,803.7 L831.5,800.2 L833.0,796.6 L834.2,805.5 L835.3,825.2 L836.5,841.3 L837.8,832.4 L839.0,821.6 L840.5,820.7 L841.9,825.2 L843.2,835.9 L844.6,846.7 L846.4,857.4 L848.2,869.9 L850.0,873.5 L851.7,868.2 L853.0,877.1 L854.3,891.4 L855.3,894.4 L930.0,894.4" fill="none" stroke="#d99a3e" stroke-width="5.8" stroke-linejoin="round" stroke-linecap="butt"/>
<path d="M96.1,1187.5 L97.7,1180.8 L99.4,1165.4 L101.2,1156.5 L102.7,1155.4 L104.3,1160.9 L105.6,1163.2 L107.2,1154.3 L108.3,1134.4 L109.4,1118.9 L110.5,1117.8 L112.2,1122.3 L113.8,1121.2 L115.3,1128.9 L116.7,1127.8 L117.5,1138.8 L118.9,1156.5 L120.4,1167.6 L121.5,1156.5 L122.6,1148.8 L124.2,1149.9 L125.5,1154.3 L127.1,1143.3 L128.6,1121.2 L130.4,1107.9 L132.1,1103.5 L133.7,1096.8 L135.5,1093.5 L136.6,1096.8 L137.4,1110.1 L138.8,1114.5 L140.3,1116.7 L141.4,1127.8 L143.2,1134.4 L144.7,1138.8 L146.3,1133.3 L147.6,1134.4 L149.2,1143.3 L150.7,1158.7 L152.0,1178.6 L153.6,1191.9 L155.1,1196.3 L156.5,1201.8 L158.0,1202.9 L159.1,1196.3 L160.2,1185.3 L161.8,1181.9 L163.5,1180.8 L164.6,1185.3 L165.7,1193.0 L167.5,1196.3 L169.7,1191.9 L171.9,1189.7 L174.1,1190.8 L176.3,1189.7 L178.6,1183.1 L180.1,1178.6 L182.3,1175.3 L183.9,1168.7 L185.2,1156.5 L186.5,1149.5 L187.8,1152.1 L188.9,1156.5 L190.1,1155.4 L190.9,1169.8 L191.8,1181.9 L193.4,1178.6 L194.5,1172.0 L195.6,1174.2 L196.7,1184.2 L198.2,1180.8 L199.3,1185.3 L200.4,1175.3 L201.5,1168.7 L202.4,1176.4 L203.3,1187.5 L204.9,1184.2 L206.0,1185.3 L207.3,1190.8 L208.8,1194.1 L210.4,1197.4 L212.2,1191.9 L213.9,1183.1 L215.5,1177.5 L217.7,1176.4 L219.2,1174.2 L221.0,1169.8 L222.3,1167.6 L223.2,1174.2 L223.9,1186.4 L225.4,1180.8 L226.5,1173.1 L228.1,1172.0 L229.4,1178.6 L230.5,1169.8 L231.6,1167.1 L232.7,1174.2 L233.8,1191.9 L235.4,1209.6 L236.9,1225.1 L238.2,1240.5 L239.8,1244.9 L240.9,1251.6 L242.7,1257.1 L244.2,1244.9 L245.3,1227.3 L247.1,1218.4 L248.6,1196.3 L249.7,1165.4 L250.8,1138.8 L252.4,1134.4 L253.7,1112.3 L254.6,1079.2 L255.9,1071.4 L257.0,1081.4 L257.9,1112.3 L259.0,1123.4 L260.3,1116.7 L261.2,1145.5 L262.1,1176.4 L263.4,1156.5 L264.8,1141.1 L265.9,1123.4 L267.0,1111.9 L268.1,1118.9 L269.2,1138.8 L270.3,1152.1 L271.4,1138.8 L272.5,1130.0 L273.6,1131.1 L274.5,1152.1 L275.8,1178.6 L277.4,1189.7 L278.9,1196.3 L280.2,1205.2 L281.8,1209.6 L282.9,1222.8 L284.0,1244.9 L285.5,1260.4 L286.9,1262.6 L288.4,1253.8 L289.5,1233.9 L290.6,1200.7 L291.7,1183.1 L293.5,1178.6 L295.1,1156.5 L295.7,1174.2 L296.8,1160.9 L298.3,1152.1 L299.4,1112.3 L300.5,1074.7 L301.6,1073.6 L302.7,1090.2 L303.4,1127.8 L304.5,1112.3 L305.6,1090.2 L307.2,1088.0 L308.3,1114.5 L308.9,1090.2 L310.0,1079.2 L311.6,1076.9 L312.7,1063.7 L313.8,1062.6 L314.9,1079.2 L315.6,1112.3 L316.4,1128.9 L317.5,1112.3 L318.7,1090.2 L319.8,1086.9 L321.1,1088.0 L322.2,1107.9 L323.3,1090.2 L324.4,1070.3 L325.5,1067.0 L326.4,1090.2 L327.1,1134.4 L327.7,1160.9 L328.8,1134.4 L329.9,1112.3 L331.5,1110.1 L332.6,1116.7 L333.7,1134.4 L335.2,1143.3 L336.3,1152.1 L337.4,1123.4 L338.5,1118.5 L339.7,1130.0 L340.8,1156.5 L341.9,1191.9 L342.7,1167.6 L343.9,1145.5 L345.0,1138.8 L346.3,1136.6 L347.2,1156.5 L348.5,1199.6 L349.8,1167.6 L351.4,1145.5 L352.9,1134.4 L354.2,1132.2 L355.3,1152.1 L356.2,1169.8 L356.9,1112.3 L357.8,1068.1 L358.9,1059.7 L360.0,1068.1 L360.9,1112.3 L361.8,1156.5 L363.1,1160.9 L364.2,1178.6 L365.3,1200.7 L366.8,1214.0 L368.4,1200.7 L369.7,1178.6 L370.8,1163.2 L372.4,1160.9 L373.5,1134.4 L374.6,1112.3 L375.7,1110.1 L376.8,1123.4 L377.7,1156.5 L378.6,1189.7 L379.7,1200.7 L380.8,1178.6 L381.7,1163.2 L383.0,1162.1 L383.9,1178.6 L384.7,1233.9 L385.6,1247.2 L386.7,1200.7 L387.8,1169.8 L388.9,1158.7 L390.1,1169.8 L390.9,1200.7 L391.8,1208.5 L392.9,1189.7 L394.0,1167.6 L395.1,1149.9 L396.2,1145.5 L397.3,1152.1 L398.5,1169.8 L399.6,1143.3 L401.1,1141.1 L402.4,1156.5 L403.3,1188.6 L404.4,1145.5 L405.5,1101.3 L406.6,1086.2 L407.7,1101.3 L408.6,1145.5 L409.5,1183.1 L410.4,1205.2 L411.3,1167.6 L412.4,1147.7 L413.5,1156.5 L414.4,1189.7 L415.5,1220.6 L416.6,1200.7 L417.9,1193.0 L419.2,1200.7 L420.3,1222.8 L421.4,1233.9 L422.8,1236.1 L423.9,1249.4 L425.0,1256.0 L426.1,1258.2 L427.2,1278.1 L428.3,1300.2 L429.4,1322.3 L430.5,1340.6 M445.3,1340.6 L446.2,1289.2 L446.9,1222.8 L447.5,1172.0 L448.4,1167.1 L449.5,1165.4 L450.4,1156.5 L451.3,1134.4 L452.6,1112.3 L453.5,1096.8 L454.2,1094.6 L454.8,1103.5 L455.9,1145.5 L457.5,1190.8 L458.8,1169.8 L460.1,1145.0 L461.9,1119.6 L463.4,1113.9 L465.2,1113.0 L466.5,1102.8 L467.9,1077.6 L469.0,1057.5 L469.6,1055.3 L470.3,1057.5 L471.4,1086.0 L472.3,1116.3 L473.4,1124.7 L474.9,1127.3 L475.8,1156.5 L476.3,1200.7 L476.9,1233.9 L478.3,1267.1 L480.0,1284.7 L481.8,1300.2 L483.3,1322.3 L484.7,1340.6 M667.2,1340.6 L668.3,1301.3 L669.0,1247.6 L669.7,1211.8 L670.0,1198.1 L670.6,1182.0 L671.3,1175.2 L672.2,1173.9 L673.3,1176.6 L674.2,1198.1 L675.1,1225.5 L675.9,1203.5 L676.8,1188.3 L678.6,1189.2 L679.7,1207.1 L680.8,1226.7 L681.7,1198.1 L682.6,1171.3 L684.0,1169.5 L685.4,1182.0 L686.7,1180.2 L687.6,1153.4 L688.5,1099.7 L689.4,1086.3 L690.8,1088.9 L691.5,1105.1 L692.6,1104.2 L693.8,1105.1 L694.4,1135.5 L694.9,1169.5 L695.8,1144.4 L696.5,1117.6 L697.4,1115.4 L698.3,1116.7 L699.0,1144.4 L699.7,1179.3 L701.0,1162.3 L702.8,1144.4 L704.6,1126.5 L705.8,1114.9 L707.3,1113.6 L708.3,1121.2 L709.4,1153.4 L710.5,1180.2 L711.0,1194.2 L712.6,1185.6 L713.5,1174.8 L714.8,1189.2 L715.9,1199.5 L716.7,1171.3 L717.5,1135.5 L718.4,1122.9 L719.4,1122.1 L720.3,1135.5 L721.2,1117.6 L722.3,1101.5 L723.4,1100.6 L724.4,1103.3 L725.2,1135.5 L725.9,1162.3 L726.6,1175.6 L727.3,1153.4 L728.0,1117.6 L728.7,1102.4 L729.8,1101.5 L730.9,1106.8 L731.6,1135.5 L732.3,1160.5 L733.2,1167.7 L734.5,1162.3 L735.5,1146.2 L736.8,1139.1 L737.7,1135.5 L738.6,1108.6 L739.5,1093.4 L740.4,1091.6 L741.3,1097.9 L742.2,1110.4 L743.4,1113.1 L744.8,1112.6 L745.9,1117.6 L746.6,1139.9 L747.7,1126.5 L748.8,1123.8 L749.9,1124.7 L750.6,1135.5 L751.3,1153.4 L752.4,1160.5 L753.8,1160.2 L755.6,1160.5 L757.0,1156.9 L757.7,1135.5 L758.8,1124.7 L760.1,1123.3 L760.9,1128.3 L761.8,1142.6 L763.1,1151.6 L764.2,1135.5 L765.4,1114.0 L766.7,1094.3 L767.7,1089.8 L768.8,1096.1 L769.5,1117.6 L770.3,1127.4 L771.7,1122.9 L772.8,1114.0 L773.8,1090.7 L774.7,1069.3 L775.6,1063.0 L776.7,1063.9 L777.4,1078.2 L778.1,1087.2 L779.2,1072.8 L780.3,1060.0 L781.3,1063.9 L782.4,1074.6 L783.5,1067.5 L784.6,1063.9 L785.6,1064.8 L786.5,1081.8 L787.4,1108.6 L788.1,1135.5 L788.9,1171.3 L789.6,1190.3 L790.8,1211.8 L792.3,1218.9 L794.6,1222.5 L795.8,1247.6 L797.1,1283.4 L798.5,1310.2 L800.3,1328.1 L801.7,1340.6 M930.0,1340.6" fill="none" stroke="#18069a" stroke-width="5.8" stroke-linejoin="round" stroke-linecap="butt"/>
<path d="M96.1,1307.9 L98.3,1306.8 L100.5,1303.5 L102.7,1303.5 L104.9,1303.5 L106.5,1300.2 L108.3,1295.8 L110.0,1292.5 L112.2,1293.6 L114.5,1291.4 L116.2,1292.5 L118.2,1295.8 L119.8,1298.0 L121.1,1300.2 L122.6,1295.8 L124.8,1294.7 L127.1,1290.3 L129.3,1286.9 L131.5,1284.7 L133.7,1283.6 L135.9,1283.0 L138.1,1285.8 L140.3,1288.1 L142.5,1290.3 L144.7,1291.4 L146.9,1292.5 L149.2,1296.9 L151.4,1302.4 L153.6,1306.8 L155.8,1309.1 L157.6,1310.2 L159.5,1305.7 L161.8,1304.6 L163.5,1303.5 L165.7,1306.8 L167.9,1306.4 L170.2,1305.7 L172.8,1306.4 L175.7,1305.7 L177.9,1303.5 L180.8,1301.3 L183.0,1300.2 L184.5,1295.8 L186.1,1292.5 L187.8,1294.7 L189.6,1296.9 L191.2,1302.4 L192.7,1304.6 L194.9,1303.5 L197.1,1303.5 L198.9,1300.2 L200.7,1298.0 L202.4,1299.1 L204.4,1300.2 L206.6,1299.1 L208.8,1298.0 L211.1,1296.9 L213.3,1292.5 L215.5,1289.2 L217.7,1286.9 L219.9,1283.6 L221.4,1280.3 L223.2,1283.6 L225.0,1278.1 L226.7,1275.9 L228.7,1274.8 L230.9,1273.7 L232.5,1278.1 L234.3,1284.7 L236.5,1293.6 L238.7,1302.4 L240.9,1306.8 L242.7,1310.2 L244.4,1302.4 L246.0,1291.4 L247.5,1278.1 L249.3,1262.6 L250.8,1256.0 L252.4,1253.8 L253.7,1240.5 L255.0,1233.9 L256.4,1238.3 L257.7,1249.4 L259.0,1256.0 L260.3,1251.6 L261.7,1262.6 L263.4,1256.0 L264.8,1249.4 L266.3,1244.9 L267.4,1242.7 L268.7,1249.4 L270.1,1254.9 L271.4,1249.4 L272.7,1250.5 L274.1,1258.2 L275.4,1269.3 L277.4,1278.1 L278.9,1284.7 L280.7,1286.9 L282.5,1293.6 L284.0,1302.4 L285.5,1306.8 L286.9,1307.9 L288.4,1295.8 L290.0,1280.3 L291.7,1269.3 L293.5,1262.6 L295.7,1258.2 L296.8,1244.9 L298.3,1233.9 L299.9,1222.8 L301.2,1219.5 L302.7,1222.8 L303.8,1233.9 L305.2,1222.8 L307.2,1220.6 L308.7,1222.8 L310.5,1218.4 L312.2,1210.7 L313.8,1208.5 L314.9,1216.2 L316.0,1238.3 L317.5,1227.3 L319.3,1218.4 L321.1,1217.3 L322.6,1220.6 L323.7,1214.0 L325.1,1207.4 L326.4,1216.2 L327.5,1244.9 L328.2,1253.8 L329.5,1233.9 L331.0,1228.4 L332.6,1233.9 L334.3,1240.5 L336.1,1244.9 L337.4,1238.3 L338.5,1233.9 L339.9,1242.7 L341.0,1258.2 L342.1,1267.1 L343.6,1249.4 L345.2,1242.7 L346.5,1241.6 L347.6,1256.0 L348.7,1272.6 L350.3,1253.8 L352.0,1244.9 L353.6,1240.5 L355.1,1238.3 L356.5,1231.7 L357.6,1218.4 L358.9,1207.4 L360.2,1220.6 L361.3,1244.9 L362.6,1253.8 L364.0,1256.0 L365.3,1267.1 L366.8,1280.3 L368.4,1267.1 L370.2,1256.0 L371.9,1249.4 L373.5,1240.5 L375.0,1233.9 L376.1,1235.0 L377.2,1244.9 L378.6,1258.2 L380.1,1264.8 L381.7,1260.4 L383.0,1258.2 L384.3,1267.1 L385.6,1280.3 L387.0,1269.3 L388.3,1259.3 L389.6,1258.2 L390.7,1267.1 L391.8,1275.9 L393.4,1267.1 L394.9,1258.2 L396.7,1251.6 L398.5,1250.5 L400.0,1253.8 L401.5,1248.3 L402.9,1249.4 L404.0,1256.0 L405.1,1238.3 L406.2,1222.8 L407.1,1220.6 L408.2,1233.9 L409.1,1251.6 L409.9,1262.6 L411.1,1267.1 L412.2,1258.2 L413.5,1254.9 L414.8,1267.1 L416.1,1278.1 L417.7,1275.9 L419.2,1278.1 L420.6,1284.7 L422.1,1288.1 L423.9,1293.6 L425.4,1302.4 L427.0,1306.8 L428.1,1317.9 L429.4,1331.2 L430.5,1340.6 M445.3,1340.6 L446.0,1311.3 L446.6,1267.1 L447.5,1241.6 L448.4,1238.3 L449.5,1237.2 L450.4,1233.9 L451.3,1218.4 L452.4,1200.7 L453.7,1196.3 L454.8,1205.2 L455.9,1233.9 L457.0,1256.0 L458.6,1240.5 L460.3,1222.8 L461.9,1216.2 L463.4,1212.9 L465.2,1211.8 L466.5,1200.7 L468.1,1187.5 L469.6,1180.8 L471.0,1189.7 L471.8,1211.8 L472.9,1222.8 L474.5,1223.9 L475.8,1233.9 L476.7,1256.0 L477.8,1278.1 L479.1,1295.8 L480.7,1306.8 L482.5,1317.9 L484.0,1331.2 L485.1,1340.6 M666.1,1340.6 L667.5,1319.2 L668.8,1283.4 L670.0,1261.9 L671.5,1254.7 L672.9,1260.1 L674.2,1276.2 L675.1,1283.4 L676.5,1265.5 L677.7,1263.7 L679.2,1269.1 L680.4,1283.4 L681.9,1265.5 L683.1,1256.5 L684.4,1254.7 L685.8,1258.3 L687.0,1247.6 L688.1,1229.7 L689.4,1216.3 L690.3,1214.5 L691.5,1220.7 L692.6,1225.2 L693.8,1224.3 L694.7,1238.6 L695.8,1235.1 L697.1,1229.7 L698.3,1231.5 L699.2,1247.6 L700.1,1260.1 L701.5,1251.2 L703.3,1244.0 L704.8,1236.8 L706.2,1229.7 L707.3,1229.3 L708.3,1235.1 L709.4,1251.2 L710.5,1260.1 L711.7,1263.7 L713.0,1261.9 L714.4,1265.5 L715.9,1270.8 L716.9,1256.5 L718.0,1244.0 L719.1,1235.1 L720.1,1236.8 L721.2,1231.5 L722.3,1225.2 L723.4,1224.3 L724.4,1227.9 L725.5,1247.6 L726.6,1259.2 L727.7,1244.0 L728.7,1226.1 L729.8,1223.4 L730.9,1229.7 L732.0,1247.6 L733.2,1256.5 L734.5,1251.2 L735.9,1244.0 L737.3,1240.4 L738.4,1227.9 L739.5,1219.8 L740.4,1218.9 L741.3,1224.3 L742.3,1229.7 L743.8,1230.6 L745.2,1229.7 L746.3,1235.1 L747.3,1238.6 L748.8,1235.1 L749.9,1235.9 L750.7,1244.0 L751.6,1249.4 L752.9,1252.1 L754.7,1252.1 L756.5,1250.3 L757.4,1240.4 L758.4,1235.9 L759.7,1235.1 L760.9,1238.6 L762.0,1245.8 L763.1,1248.5 L764.2,1242.2 L765.4,1231.5 L766.7,1222.5 L767.7,1219.8 L769.0,1226.1 L769.9,1236.8 L771.1,1235.9 L772.2,1229.7 L773.5,1217.2 L774.7,1208.2 L776.0,1206.4 L777.1,1208.2 L777.9,1213.6 L779.2,1208.2 L780.3,1205.5 L781.7,1207.3 L783.3,1210.0 L784.6,1209.1 L786.0,1211.8 L786.9,1226.1 L788.1,1244.0 L789.6,1261.9 L791.0,1276.2 L792.3,1283.4 L794.1,1285.2 L795.3,1297.7 L796.4,1312.0 L797.6,1326.3 L798.9,1337.1 L800.0,1340.6 M930.0,1340.6" fill="none" stroke="#bb08f0" stroke-width="5.8" stroke-linejoin="round" stroke-linecap="butt"/>
<path d="M96.1,1264.8 L97.7,1261.5 L99.9,1256.0 L102.1,1253.8 L104.3,1254.9 L106.1,1253.8 L107.8,1244.9 L109.4,1238.3 L110.5,1236.1 L112.2,1239.4 L113.8,1240.5 L115.3,1243.8 L117.1,1244.9 L118.4,1256.0 L120.4,1262.6 L122.0,1258.2 L123.7,1256.0 L125.5,1257.1 L127.1,1250.5 L128.6,1242.7 L130.4,1236.1 L132.6,1232.8 L134.3,1229.5 L136.1,1228.4 L137.4,1233.9 L139.2,1238.3 L141.0,1242.7 L142.5,1246.1 L144.7,1248.3 L146.3,1246.1 L148.1,1248.3 L149.8,1254.9 L151.4,1263.7 L152.9,1270.4 L154.7,1273.7 L156.5,1275.5 L158.0,1275.9 L159.5,1270.4 L161.3,1268.2 L163.5,1266.6 L165.3,1269.3 L166.8,1272.6 L169.1,1271.5 L171.3,1271.0 L174.1,1271.9 L176.3,1271.5 L178.6,1268.2 L180.8,1265.9 L183.0,1262.6 L184.5,1258.2 L185.6,1253.8 L187.0,1252.7 L188.7,1254.9 L190.1,1256.0 L191.4,1263.7 L193.4,1263.7 L194.9,1264.8 L196.7,1267.1 L198.5,1264.8 L200.0,1268.2 L201.5,1263.7 L202.9,1267.1 L204.4,1271.5 L206.6,1273.7 L208.8,1277.0 L211.1,1279.2 L213.3,1274.8 L215.5,1272.6 L217.7,1272.6 L219.9,1271.5 L221.4,1273.7 L223.2,1278.1 L225.0,1280.3 L227.2,1279.2 L229.4,1278.1 L231.6,1277.0 L233.2,1283.6 L234.7,1289.2 L236.5,1295.8 L238.7,1302.4 L240.9,1305.7 L242.7,1306.8 L244.2,1300.2 L245.8,1293.6 L247.5,1286.9 L249.1,1275.9 L250.6,1264.8 L252.4,1262.6 L253.7,1253.8 L254.8,1243.8 L255.9,1240.5 L257.0,1247.2 L258.1,1258.2 L259.7,1262.6 L260.8,1275.9 L261.9,1281.4 L263.4,1275.9 L264.8,1269.3 L266.3,1263.7 L267.4,1260.4 L268.7,1267.1 L270.1,1274.8 L271.4,1269.3 L272.7,1267.1 L274.1,1273.7 L275.4,1282.5 L277.4,1288.1 L279.6,1289.2 L281.1,1292.5 L282.9,1300.2 L284.2,1309.1 L285.5,1313.5 L286.9,1314.6 L288.4,1309.1 L290.0,1298.0 L291.7,1289.2 L293.5,1285.8 L295.7,1286.9 L296.8,1282.5 L298.3,1275.9 L299.9,1258.2 L301.2,1254.9 L302.5,1264.8 L303.8,1275.9 L305.6,1271.5 L307.2,1269.3 L308.7,1271.5 L310.0,1264.8 L311.6,1261.5 L313.1,1258.2 L314.2,1257.1 L315.3,1267.1 L316.4,1277.0 L318.2,1271.5 L319.8,1267.1 L321.5,1267.1 L323.1,1269.3 L324.2,1262.6 L325.3,1258.2 L326.4,1267.1 L327.7,1282.5 L329.3,1280.3 L330.8,1274.8 L332.6,1275.9 L334.3,1280.3 L336.1,1282.5 L337.7,1278.1 L338.8,1277.0 L340.1,1282.5 L341.2,1291.4 L342.1,1294.7 L343.6,1284.7 L345.4,1280.3 L346.7,1280.3 L347.8,1289.2 L348.9,1298.0 L350.3,1286.9 L352.0,1282.5 L353.8,1280.3 L355.3,1280.3 L356.5,1271.5 L357.6,1258.2 L358.9,1250.5 L360.2,1258.2 L361.3,1275.9 L362.6,1284.7 L364.0,1285.8 L365.3,1291.4 L366.8,1298.0 L368.4,1291.4 L370.2,1284.7 L371.9,1278.1 L373.5,1269.3 L375.0,1263.7 L376.1,1264.8 L377.2,1275.9 L378.6,1286.9 L380.1,1290.3 L381.7,1286.9 L383.0,1285.8 L384.1,1293.6 L385.6,1309.1 L386.7,1293.6 L388.3,1284.7 L389.6,1283.6 L390.7,1289.2 L391.8,1293.6 L393.4,1286.9 L394.9,1280.3 L396.7,1275.9 L398.5,1274.8 L400.2,1278.1 L401.8,1284.7 L403.3,1289.2 L404.6,1269.3 L406.0,1256.0 L407.1,1254.9 L408.2,1267.1 L409.1,1289.2 L409.9,1300.2 L411.3,1291.4 L412.6,1285.8 L413.9,1288.1 L415.3,1298.0 L416.6,1295.8 L418.3,1295.8 L419.9,1300.2 L421.4,1303.5 L423.2,1311.3 L425.0,1314.6 L426.5,1316.8 L427.6,1328.9 L428.7,1340.6 L445.1,1340.6 L446.0,1328.9 L446.9,1311.3 L448.0,1304.6 L449.3,1303.5 L450.6,1302.4 L451.7,1295.8 L452.8,1286.9 L454.2,1284.7 L455.5,1289.2 L456.8,1300.2 L458.1,1302.4 L459.7,1293.6 L461.2,1288.1 L463.0,1285.8 L464.8,1283.6 L466.3,1281.4 L467.9,1271.5 L469.2,1264.8 L470.1,1263.7 L471.2,1271.5 L472.3,1282.5 L473.6,1284.7 L475.2,1285.8 L476.3,1300.2 L477.1,1315.7 L478.5,1322.3 L480.2,1326.7 L482.0,1331.2 L483.6,1340.6 L667.0,1340.6 L667.9,1329.9 L668.8,1319.2 L670.0,1301.3 L671.5,1295.5 L672.9,1299.5 L674.2,1308.4 L675.4,1304.8 L676.8,1299.5 L678.3,1301.3 L679.5,1306.6 L680.8,1309.3 L681.9,1301.3 L683.1,1295.9 L684.4,1294.1 L685.8,1295.0 L686.9,1290.5 L687.9,1279.8 L689.0,1269.9 L690.3,1268.2 L691.5,1272.6 L692.6,1276.2 L694.0,1275.3 L695.1,1281.6 L696.2,1278.0 L697.4,1275.3 L698.7,1278.0 L699.6,1286.9 L700.5,1292.3 L701.9,1288.7 L703.3,1283.4 L704.8,1278.0 L706.2,1273.5 L707.3,1273.5 L708.3,1278.0 L709.4,1286.9 L710.5,1292.3 L711.7,1295.0 L713.0,1294.1 L714.4,1295.9 L715.9,1297.7 L717.1,1290.5 L718.4,1281.6 L719.4,1276.2 L720.5,1277.1 L721.6,1273.5 L722.7,1269.1 L723.7,1268.7 L724.8,1272.6 L725.9,1283.4 L726.9,1289.6 L728.0,1279.8 L729.1,1269.9 L730.2,1269.1 L731.2,1274.4 L732.3,1285.2 L733.4,1286.9 L734.8,1283.4 L736.3,1279.8 L737.7,1276.2 L738.8,1269.1 L739.8,1264.6 L740.7,1264.0 L741.8,1269.1 L743.1,1271.7 L744.5,1271.7 L745.7,1274.4 L747.0,1276.2 L748.4,1274.4 L749.7,1276.2 L750.6,1281.6 L751.6,1283.4 L753.4,1283.4 L755.2,1282.5 L756.7,1281.6 L757.7,1276.2 L758.8,1272.6 L760.1,1271.7 L761.3,1275.3 L762.4,1278.9 L763.5,1278.0 L764.5,1272.6 L765.6,1265.5 L766.9,1260.1 L768.1,1258.7 L769.4,1263.7 L770.4,1269.1 L771.7,1267.3 L772.8,1261.9 L773.8,1254.7 L774.9,1249.4 L776.2,1247.6 L777.4,1249.4 L778.5,1252.9 L779.6,1247.6 L780.6,1245.4 L782.1,1246.7 L783.5,1247.6 L784.7,1246.7 L786.0,1251.2 L786.9,1265.5 L787.8,1283.4 L788.9,1292.3 L790.1,1297.7 L791.7,1299.5 L793.2,1301.3 L794.6,1312.0 L795.8,1326.3 L797.1,1337.1 L798.2,1340.6 L930.0,1340.6" fill="none" stroke="#94a840" stroke-width="5.8" stroke-linejoin="round" stroke-linecap="butt"/>
</g>
<path d="M98.5,1340.6 L98.5,1.6 L927.0,1.6 L927.0,1340.6 Z M98.5,447.9 L927.0,447.9 M98.5,894.4 L927.0,894.4" fill="none" stroke="#000" stroke-width="3.9" stroke-linejoin="miter"/>
<text transform="translate(78.0,461.3) scale(0.97,1.0)" font-family="'Liberation Sans', Arial, Helvetica, sans-serif" font-size="38.5" text-anchor="end">0</text>
<text transform="translate(78.0,310.0) scale(0.97,1.0)" font-family="'Liberation Sans', Arial, Helvetica, sans-serif" font-size="38.5" text-anchor="end">2</text>
<text transform="translate(78.0,158.7) scale(0.97,1.0)" font-family="'Liberation Sans', Arial, Helvetica, sans-serif" font-size="38.5" text-anchor="end">4</text>
<text transform="translate(78.0,907.8) scale(0.97,1.0)" font-family="'Liberation Sans', Arial, Helvetica, sans-serif" font-size="38.5" text-anchor="end">0</text>
<text transform="translate(78.0,756.5) scale(0.97,1.0)" font-family="'Liberation Sans', Arial, Helvetica, sans-serif" font-size="38.5" text-anchor="end">2</text>
<text transform="translate(78.0,605.2) scale(0.97,1.0)" font-family="'Liberation Sans', Arial, Helvetica, sans-serif" font-size="38.5" text-anchor="end">4</text>
<text transform="translate(78.0,1354.0) scale(0.97,1.0)" font-family="'Liberation Sans', Arial, Helvetica, sans-serif" font-size="38.5" text-anchor="end">0</text>
<text transform="translate(78.0,1202.7) scale(0.97,1.0)" font-family="'Liberation Sans', Arial, Helvetica, sans-serif" font-size="38.5" text-anchor="end">2</text>
<text transform="translate(78.0,1051.4) scale(0.97,1.0)" font-family="'Liberation Sans', Arial, Helvetica, sans-serif" font-size="38.5" text-anchor="end">4</text>
<text transform="translate(98.0,1388.5) scale(0.915,1.0)" font-family="'Liberation Sans', Arial, Helvetica, sans-serif" font-size="38.5" text-anchor="middle"><tspan dy="3.4">−</tspan><tspan dy="-3.4">2.0</tspan></text>
<text transform="translate(180.8,1388.5) scale(0.915,1.0)" font-family="'Liberation Sans', Arial, Helvetica, sans-serif" font-size="38.5" text-anchor="middle"><tspan dy="3.4">−</tspan><tspan dy="-3.4">1.5</tspan></text>
<text transform="translate(263.7,1388.5) scale(0.915,1.0)" font-family="'Liberation Sans', Arial, Helvetica, sans-serif" font-size="38.5" text-anchor="middle"><tspan dy="3.4">−</tspan><tspan dy="-3.4">1.0</tspan></text>
<text transform="translate(346.5,1388.5) scale(0.915,1.0)" font-family="'Liberation Sans', Arial, Helvetica, sans-serif" font-size="38.5" text-anchor="middle"><tspan dy="3.4">−</tspan><tspan dy="-3.4">0.5</tspan></text>
<text transform="translate(429.4,1388.5) scale(0.915,1.0)" font-family="'Liberation Sans', Arial, Helvetica, sans-serif" font-size="38.5" text-anchor="middle">0.0</text>
<text transform="translate(512.2,1388.5) scale(0.915,1.0)" font-family="'Liberation Sans', Arial, Helvetica, sans-serif" font-size="38.5" text-anchor="middle">0.5</text>
<text transform="translate(595.1,1388.5) scale(0.915,1.0)" font-family="'Liberation Sans', Arial, Helvetica, sans-serif" font-size="38.5" text-anchor="middle">1.0</text>
<text transform="translate(677.9,1388.5) scale(0.915,1.0)" font-family="'Liberation Sans', Arial, Helvetica, sans-serif" font-size="38.5" text-anchor="middle">1.5</text>
<text transform="translate(760.8,1388.5) scale(0.915,1.0)" font-family="'Liberation Sans', Arial, Helvetica, sans-serif" font-size="38.5" text-anchor="middle">2.0</text>
<text transform="translate(843.6,1388.5) scale(0.915,1.0)" font-family="'Liberation Sans', Arial, Helvetica, sans-serif" font-size="38.5" text-anchor="middle">2.5</text>
<text transform="translate(926.5,1388.5) scale(0.915,1.0)" font-family="'Liberation Sans', Arial, Helvetica, sans-serif" font-size="38.5" text-anchor="middle">3.0</text>
<text transform="translate(129.3,56.0) scale(1.0,1.045)" font-family="'Liberation Sans', Arial, Helvetica, sans-serif" font-size="38.8" text-anchor="start"><tspan font-weight="bold">a</tspan><tspan dx="1.2"> RuCl</tspan><tspan font-size="31.0" dy="11" dx="0.8">3</tspan></text>
<text transform="translate(126.8,502.5) scale(1.0,1.045)" font-family="'Liberation Sans', Arial, Helvetica, sans-serif" font-size="38.8" text-anchor="start"><tspan font-weight="bold">b</tspan><tspan dx="1.2"> RuBr</tspan><tspan font-size="31.0" dy="11" dx="0.0">3</tspan></text>
<text transform="translate(126.0,948.7) scale(1.0,1.045)" font-family="'Liberation Sans', Arial, Helvetica, sans-serif" font-size="38.8" text-anchor="start"><tspan font-weight="bold">c</tspan><tspan dx="1.2"> RuI</tspan><tspan font-size="31.0" dy="11" dx="-0.3">3</tspan></text>
<text transform="translate(531.3,130.9) scale(1.0,1.045)" font-family="'Liberation Sans', Arial, Helvetica, sans-serif" font-size="38.8" text-anchor="end">total</text>
<line x1="552.4" y1="117.6" x2="574.6" y2="117.6" stroke="#18069a" stroke-width="5.8"/>
<text transform="translate(531.3,184.0) scale(1.0,1.045)" font-family="'Liberation Sans', Arial, Helvetica, sans-serif" font-size="38.8" text-anchor="end">Ru</text>
<line x1="552.4" y1="170.7" x2="574.6" y2="170.7" stroke="#bb08f0" stroke-width="5.8"/>
<text transform="translate(531.3,237.1) scale(1.0,1.045)" font-family="'Liberation Sans', Arial, Helvetica, sans-serif" font-size="38.8" text-anchor="end">Cl</text>
<line x1="552.4" y1="223.8" x2="574.6" y2="223.8" stroke="#6680b0" stroke-width="5.8"/>
<text transform="translate(531.3,577.4) scale(1.0,1.045)" font-family="'Liberation Sans', Arial, Helvetica, sans-serif" font-size="38.8" text-anchor="end">total</text>
<line x1="552.4" y1="564.1" x2="574.6" y2="564.1" stroke="#18069a" stroke-width="5.8"/>
<text transform="translate(531.3,630.5) scale(1.0,1.045)" font-family="'Liberation Sans', Arial, Helvetica, sans-serif" font-size="38.8" text-anchor="end">Ru</text>
<line x1="552.4" y1="617.2" x2="574.6" y2="617.2" stroke="#bb08f0" stroke-width="5.8"/>
<text transform="translate(531.3,683.6) scale(1.0,1.045)" font-family="'Liberation Sans', Arial, Helvetica, sans-serif" font-size="38.8" text-anchor="end">Br</text>
<line x1="552.4" y1="670.3" x2="574.6" y2="670.3" stroke="#d99a3e" stroke-width="5.8"/>
<text transform="translate(531.3,1023.6) scale(1.0,1.045)" font-family="'Liberation Sans', Arial, Helvetica, sans-serif" font-size="38.8" text-anchor="end">total</text>
<line x1="552.4" y1="1010.3" x2="574.6" y2="1010.3" stroke="#18069a" stroke-width="5.8"/>
<text transform="translate(531.3,1076.7) scale(1.0,1.045)" font-family="'Liberation Sans', Arial, Helvetica, sans-serif" font-size="38.8" text-anchor="end">Ru</text>
<line x1="552.4" y1="1063.4" x2="574.6" y2="1063.4" stroke="#bb08f0" stroke-width="5.8"/>
<text transform="translate(531.3,1129.8) scale(1.0,1.045)" font-family="'Liberation Sans', Arial, Helvetica, sans-serif" font-size="38.8" text-anchor="end">I</text>
<line x1="552.4" y1="1116.5" x2="574.6" y2="1116.5" stroke="#94a840" stroke-width="5.8"/>
<text transform="translate(415.3,1462.0) scale(1.0,1.045)" font-family="'Liberation Sans', Arial, Helvetica, sans-serif" font-size="38.8" text-anchor="start"><tspan font-style="italic">E</tspan> <tspan dy="2">–</tspan><tspan dy="-2"> </tspan><tspan font-style="italic" dx="2">E</tspan><tspan font-size="31.0" dy="11" dx="-3">F</tspan><tspan dy="-11"> (eV)</tspan></text>
<text transform="translate(28.6,668.4) rotate(-90) scale(1,1.03)" font-family="'Liberation Sans', Arial, Helvetica, sans-serif" font-size="39.4" text-anchor="middle">DOS (states/eV/spin/formula unit)</text>
</svg>
</body></html>
